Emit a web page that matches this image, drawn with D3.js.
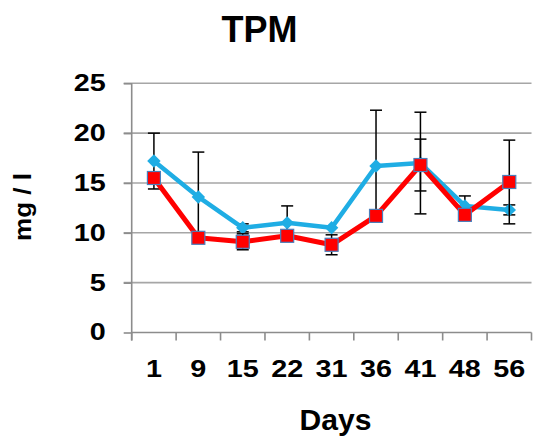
<!DOCTYPE html>
<html>
<head>
<meta charset="utf-8">
<script src="https://cdn.jsdelivr.net/npm/d3@7"></script>
<style>
  html, body { margin: 0; padding: 0; background: #fff; }
  svg { display: block; font-family: "Liberation Sans", Arial, sans-serif; font-weight: bold; }
</style>
</head>
<body>
<svg id="chart" width="534" height="437"></svg>
<script>
// Sampling days
const days = ["1", "9", "15", "22", "31", "36", "41", "48", "56"];
// Mean TPM (mg/l) per series, with standard deviations
const seriesBlue = [17.2, 13.6, 10.5, 11.0, 10.5, 16.7, 17.0, 12.7, 12.3];
const errBlue    = [2.8, 4.5, 0.4, 1.7, 0, 5.6, 5.1, 1.0, 0.5];
const seriesRed  = [15.5, 9.5, 9.1, 9.7, 8.8, 11.7, 16.8, 11.8, 15.1];
const errRed     = [0, 0, 0.8, 0, 1.0, 0, 2.6, 0, 4.2];
const yTicks = [0, 5, 10, 15, 20, 25];

const svg = d3.select("#chart");
const plotLeft = 131.7, plotRight = 531.5, plotTop = 83.3, plotBottom = 332.5;

const x = d3.scaleBand().domain(days).range([plotLeft, plotRight]).padding(0);
const y = d3.scaleLinear().domain([0, 25]).range([plotBottom, plotTop]);
const cx = d => x(d) + x.bandwidth() / 2;

// Widen a bold label by a factor (the axis font is set wide)
function widen(sel, k) {
  sel.each(function () {
    const w = this.getComputedTextLength();
    this.setAttribute("textLength", w * k);
    this.setAttribute("lengthAdjust", "spacingAndGlyphs");
  });
}

// Horizontal gridlines
svg.append("g").selectAll("line")
  .data(yTicks.filter(t => t > 0))
  .join("line")
  .attr("x1", plotLeft - 8).attr("x2", plotRight)
  .attr("y1", d => y(d)).attr("y2", d => y(d))
  .attr("stroke", "#a6a6a6").attr("stroke-width", 1.6);

// Y axis
const yAxis = svg.append("g")
  .attr("transform", `translate(${plotLeft},0)`)
  .call(d3.axisLeft(y).tickValues(yTicks).tickSize(8).tickPadding(18));
yAxis.select(".domain").attr("stroke", "#8c8c8c").attr("stroke-width", 1.6)
  .attr("d", `M0,${plotTop}V${plotBottom + 8}`);
yAxis.selectAll(".tick line").attr("stroke", "#8c8c8c").attr("stroke-width", 1.6);
yAxis.selectAll(".tick text")
  .attr("font-size", 23).attr("font-weight", "bold").attr("fill", "#000")
  .attr("font-family", "Liberation Sans, Arial, sans-serif")
  .call(widen, 1.25);

// X axis with ticks at category boundaries
const xAxis = svg.append("g").attr("transform", `translate(0,${plotBottom})`);
xAxis.append("line").attr("x1", plotLeft).attr("x2", plotRight)
  .attr("stroke", "#8c8c8c").attr("stroke-width", 1.6);
xAxis.selectAll("line.b")
  .data(days.concat(["end"]))
  .join("line").attr("class", "b")
  .attr("x1", (d, i) => plotLeft + i * x.step()).attr("x2", (d, i) => plotLeft + i * x.step())
  .attr("y1", 0).attr("y2", 8)
  .attr("stroke", "#8c8c8c").attr("stroke-width", 1.6);
xAxis.selectAll("text")
  .data(days)
  .join("text")
  .attr("x", d => cx(d)).attr("y", 44)
  .attr("text-anchor", "middle")
  .attr("font-size", 23)
  .text(d => d)
  .call(widen, 1.25);

// Error bars
function errorBars(values, errs) {
  const g = svg.append("g").attr("stroke", "#000").attr("stroke-width", 1.5);
  const data = days.map((d, i) => ({ d, v: values[i], e: errs[i] })).filter(o => o.e > 0);
  g.selectAll("line.v").data(data).join("line").attr("class", "v")
    .attr("x1", o => cx(o.d)).attr("x2", o => cx(o.d))
    .attr("y1", o => y(o.v + o.e)).attr("y2", o => y(o.v - o.e));
  [1, -1].forEach(s => {
    g.selectAll("line.c" + s).data(data).join("line")
      .attr("class", "c" + s)
      .attr("x1", o => cx(o.d) - 6).attr("x2", o => cx(o.d) + 6)
      .attr("y1", o => y(o.v + s * o.e))
      .attr("y2", o => y(o.v + s * o.e));
  });
}

const line = d3.line().x((v, i) => cx(days[i])).y(v => y(v));

// Blue series: diamonds
errorBars(seriesBlue, errBlue);
svg.append("path").datum(seriesBlue)
  .attr("d", line).attr("fill", "none")
  .attr("stroke", "#1fade4").attr("stroke-width", 4.5).attr("stroke-linejoin", "round");
svg.append("g").selectAll("path")
  .data(seriesBlue).join("path")
  .attr("transform", (v, i) => `translate(${cx(days[i])},${y(v)})`)
  .attr("d", d3.symbol(d3.symbolDiamond2, 115)())
  .attr("fill", "#1fade4");

// Red series: squares
errorBars(seriesRed, errRed);
svg.append("path").datum(seriesRed)
  .attr("d", line).attr("fill", "none")
  .attr("stroke", "#ff0000").attr("stroke-width", 5).attr("stroke-linejoin", "round");
svg.append("g").selectAll("rect")
  .data(seriesRed).join("rect")
  .attr("x", (v, i) => cx(days[i]) - 6.5).attr("y", v => y(v) - 6.5)
  .attr("width", 13).attr("height", 13)
  .attr("fill", "#ff0000").attr("stroke", "#4a7ebb").attr("stroke-width", 1.2);

// Titles
svg.append("text").attr("x", 259.5).attr("y", 41.5).attr("text-anchor", "middle")
  .attr("font-size", 36).text("TPM");
svg.append("text").attr("x", 335.5).attr("y", 430).attr("text-anchor", "middle")
  .attr("font-size", 29).text("Days")
  .attr("textLength", 72).attr("lengthAdjust", "spacingAndGlyphs");
svg.append("text").attr("transform", "translate(31,207) rotate(-90)")
  .attr("text-anchor", "middle").attr("font-size", 23).text("mg / l")
  .attr("textLength", 68).attr("lengthAdjust", "spacingAndGlyphs");
</script>
</body>
</html>
